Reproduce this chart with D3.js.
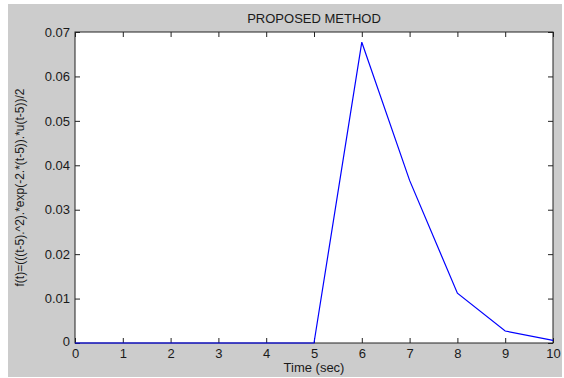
<!DOCTYPE html>
<html>
<head>
<meta charset="utf-8">
<title>Proposed Method</title>
<script src="https://d3js.org/d3.v7.min.js"></script>
<style>
  body { margin: 0; background: #fff; }
  text { font-family: "Liberation Sans", Arial, sans-serif; fill: #1a1a1a; }
</style>
</head>
<body>
<div id="chart"></div>
<script>
// data
var timeSec = [0, 1, 2, 3, 4, 5, 6, 7, 8, 9, 10];
var fValues = [0, 0, 0, 0, 0, 0, 0.0677, 0.0366, 0.0112, 0.0027, 0.0006];
var xTicks = [0, 1, 2, 3, 4, 5, 6, 7, 8, 9, 10];
var yTicks = [0, 0.01, 0.02, 0.03, 0.04, 0.05, 0.06, 0.07];
var yTickLabels = ["0", "0.01", "0.02", "0.03", "0.04", "0.05", "0.06", "0.07"];

const W = 564, H = 378;
const box = { left: 75, right: 553, top: 32, bottom: 343 };

var svg = d3.select("#chart").append("svg")
    .attr("width", W)
    .attr("height", H);

// grey figure background
svg.append("rect")
    .attr("x", 8).attr("y", 4)
    .attr("width", 554).attr("height", 373)
    .attr("fill", "#cccccc");

svg.append("rect")
    .attr("x", box.left).attr("y", box.top)
    .attr("width", box.right - box.left).attr("height", box.bottom - box.top)
    .attr("fill", "#fff");

var x = d3.scaleLinear().domain([0, 10]).range([box.left, box.right]);
var y = d3.scaleLinear().domain([0, 0.07]).range([box.bottom, box.top]);

// axes with inward ticks, all four sides
function styleAxis(g) {
  g.select(".domain").remove();
  g.selectAll("line").attr("stroke", "#222").attr("stroke-width", 1);
  g.selectAll("text").style("font-size", "13px").attr("fill", "#1a1a1a");
}

svg.append("g")
    .attr("transform", `translate(0, ${box.bottom})`)
    .call(d3.axisBottom(x).tickValues(xTicks).tickSizeInner(-5).tickSizeOuter(0).tickPadding(6))
    .call(styleAxis);

svg.append("g")
    .attr("transform", `translate(0, ${box.top})`)
    .call(d3.axisTop(x).tickValues(xTicks).tickSizeInner(-5).tickSizeOuter(0).tickFormat(""))
    .call(styleAxis);

var yAxisG = svg.append("g")
    .attr("transform", `translate(${box.left}, 0)`)
    .call(d3.axisLeft(y).tickValues(yTicks).tickSizeInner(-5).tickSizeOuter(0).tickPadding(5)
      .tickFormat(function(d, i) { return yTickLabels[i]; }))
    .call(styleAxis);

// the "0" y label sits a bit high in the original
yAxisG.selectAll("text").filter(function(d) { return d === 0; })
    .attr("dy", "0.2em");

svg.append("g")
    .attr("transform", `translate(${box.right}, 0)`)
    .call(d3.axisRight(y).tickValues(yTicks).tickSizeInner(-5).tickSizeOuter(0).tickFormat(""))
    .call(styleAxis);

// frame
svg.append("rect")
    .attr("x", box.left).attr("y", box.top)
    .attr("width", box.right - box.left).attr("height", box.bottom - box.top)
    .attr("fill", "none")
    .attr("stroke", "#222")
    .attr("stroke-width", 1);

// data line
var line = d3.line()
    .x(function(d, i) { return x(timeSec[i]); })
    .y(function(d) { return y(d); });

svg.append("path")
    .datum(fValues)
    .attr("d", line)
    .attr("fill", "none")
    .attr("stroke", "#0000ff")
    .attr("stroke-width", 1.2);

// title and labels
svg.append("text")
    .attr("x", (box.left + box.right) / 2)
    .attr("y", 23)
    .attr("text-anchor", "middle")
    .style("font-size", "13px")
    .text("PROPOSED METHOD");

svg.append("text")
    .attr("x", (box.left + box.right) / 2)
    .attr("y", 372)
    .attr("text-anchor", "middle")
    .style("font-size", "13px")
    .text("Time (sec)");

svg.append("text")
    .attr("transform", `translate(24, ${(box.top + box.bottom) / 2}) rotate(-90)`)
    .attr("text-anchor", "middle")
    .style("font-size", "12px")
    .text("f(t)=(((t-5).^2).*exp(-2.*(t-5)).*u(t-5))/2");
</script>
</body>
</html>
